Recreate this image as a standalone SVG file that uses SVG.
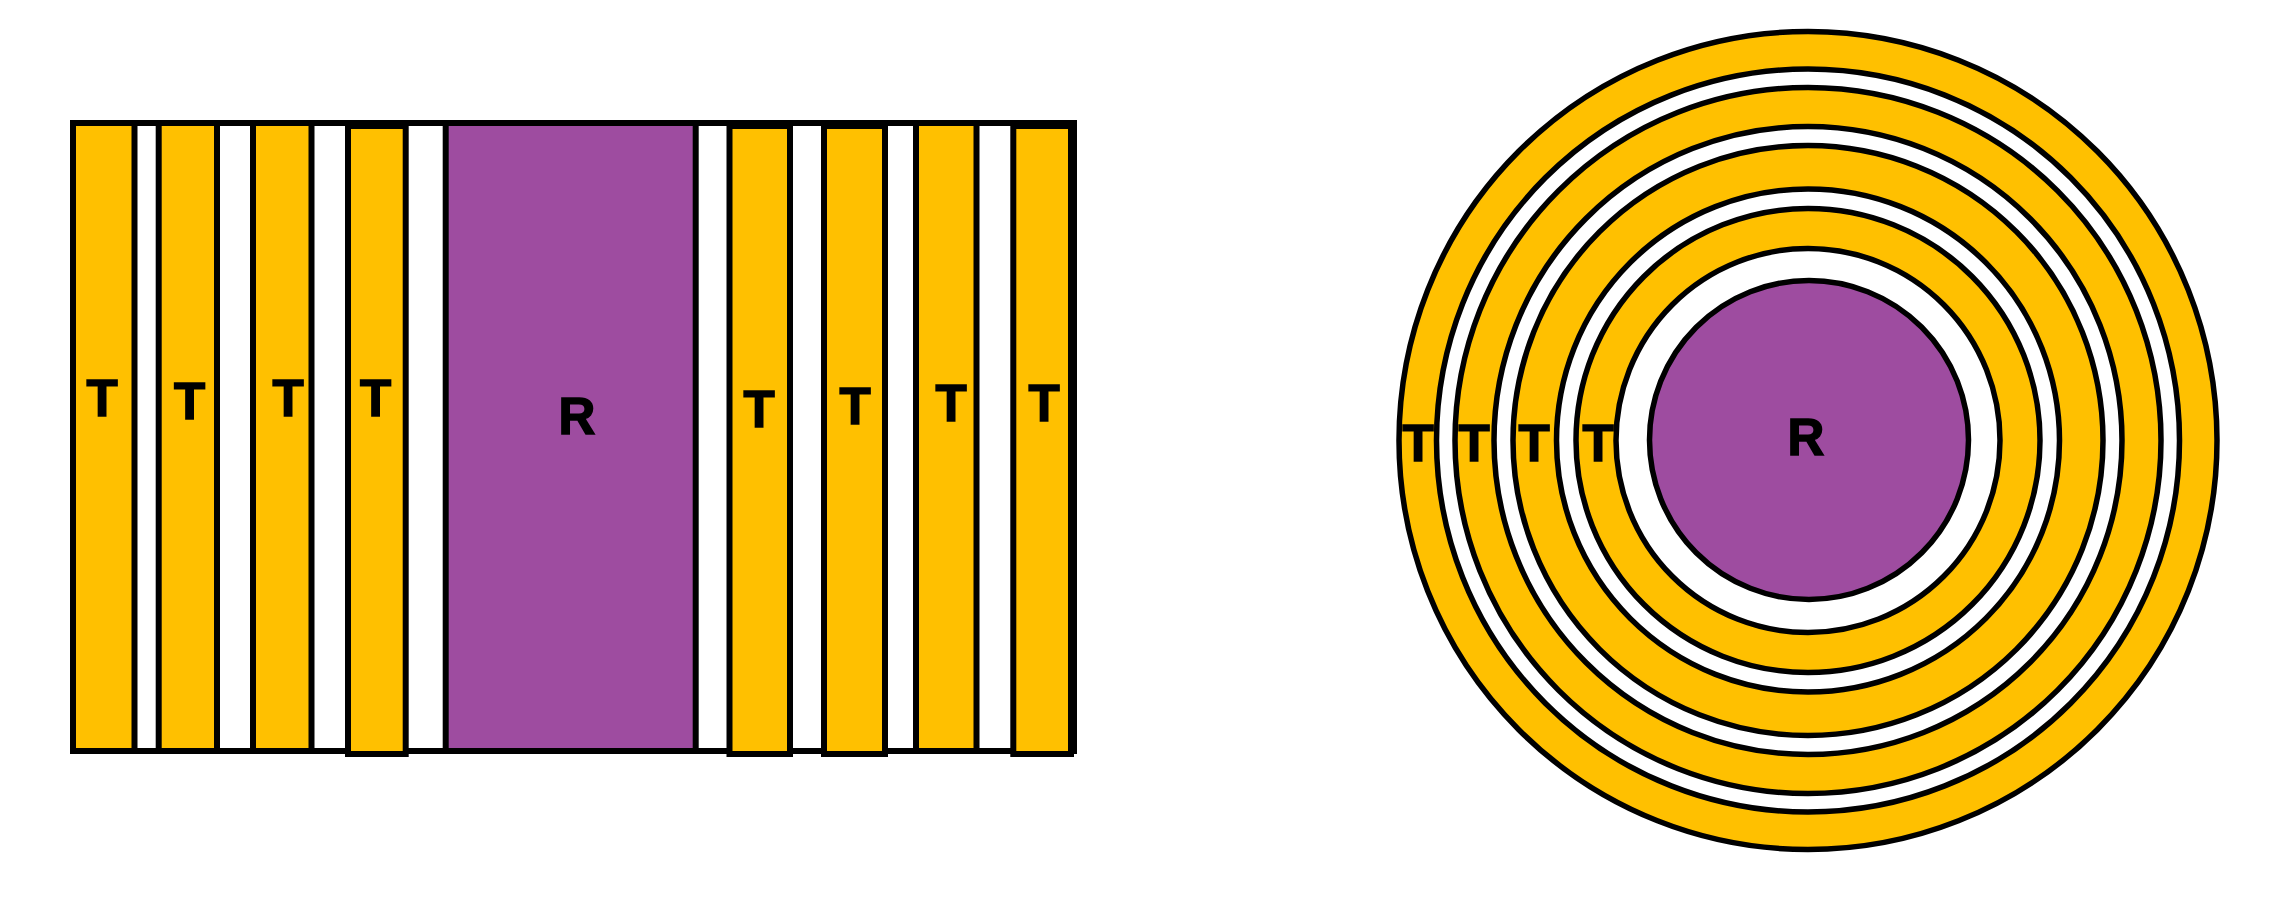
<svg xmlns="http://www.w3.org/2000/svg" width="2274" height="921" viewBox="0 0 2274 921">
<style>
.y{fill:#FFC000;stroke:#000;stroke-width:6}
.p{fill:#9E4CA0;stroke:#000;stroke-width:6}
.f{fill:#fff;stroke:#000;stroke-width:6}
.cy{fill:#FFC000;stroke:#000;stroke-width:5.5}
.cw{fill:#fff;stroke:#000;stroke-width:5.5}
.cp{fill:#9E4CA0;stroke:#000;stroke-width:5.5}
.t{font-family:"Liberation Sans",Arial,sans-serif;font-weight:bold;font-size:51px;fill:#000;stroke:#000;stroke-width:1.5;text-anchor:middle}
</style>
<rect width="2274" height="921" fill="#fff"/>
<g id="linear">
  <rect id="frame" class="f" x="73" y="123" width="1001" height="628"/>
  <g id="t1"><rect class="y" x="73" y="123" width="61.5" height="628"/><text class="t" x="102" y="416">T</text></g>
  <g id="t2"><rect class="y" x="158.7" y="123" width="58.3" height="628"/><text class="t" x="189.5" y="419">T</text></g>
  <g id="t3"><rect class="y" x="253" y="123" width="58.5" height="628"/><text class="t" x="288" y="416">T</text></g>
  <g id="t7"><rect class="y" x="916" y="123" width="60.5" height="628"/><text class="t" x="951" y="421">T</text></g>
  <g id="r1"><rect class="p" x="445.7" y="123" width="250" height="628"/><text class="t" x="577" y="434">R</text></g>
  <g id="t4"><rect class="y" x="348" y="126" width="57.7" height="628"/><text class="t" x="375.5" y="416">T</text></g>
  <g id="t5"><rect class="y" x="729.5" y="126" width="60.5" height="628"/><text class="t" x="759" y="427">T</text></g>
  <g id="t6"><rect class="y" x="824" y="126" width="61" height="628"/><text class="t" x="855" y="424">T</text></g>
  <g id="t8"><rect class="y" x="1013.3" y="126" width="57.7" height="628"/><text class="t" x="1044" y="421">T</text></g>
</g>
<g id="radial">
  <circle id="ring4" class="cy" cx="1808" cy="440.5" r="409"/>
  <circle class="cw" cx="1808" cy="440.5" r="371.5"/>
  <circle id="ring3" class="cy" cx="1808" cy="440.5" r="353"/>
  <circle class="cw" cx="1808" cy="440.5" r="314"/>
  <circle id="ring2" class="cy" cx="1808" cy="440.5" r="295"/>
  <circle class="cw" cx="1808" cy="440.5" r="251.5"/>
  <circle id="ring1" class="cy" cx="1808" cy="440.5" r="232"/>
  <circle class="cw" cx="1808" cy="440.5" r="192"/>
  <circle id="core" class="cp" cx="1809" cy="440" r="159.5"/>
  <text class="t" x="1418" y="461">T</text>
  <text class="t" x="1474" y="461">T</text>
  <text class="t" x="1534" y="461">T</text>
  <text class="t" x="1598" y="461">T</text>
  <text class="t" x="1806" y="455">R</text>
</g>
</svg>
